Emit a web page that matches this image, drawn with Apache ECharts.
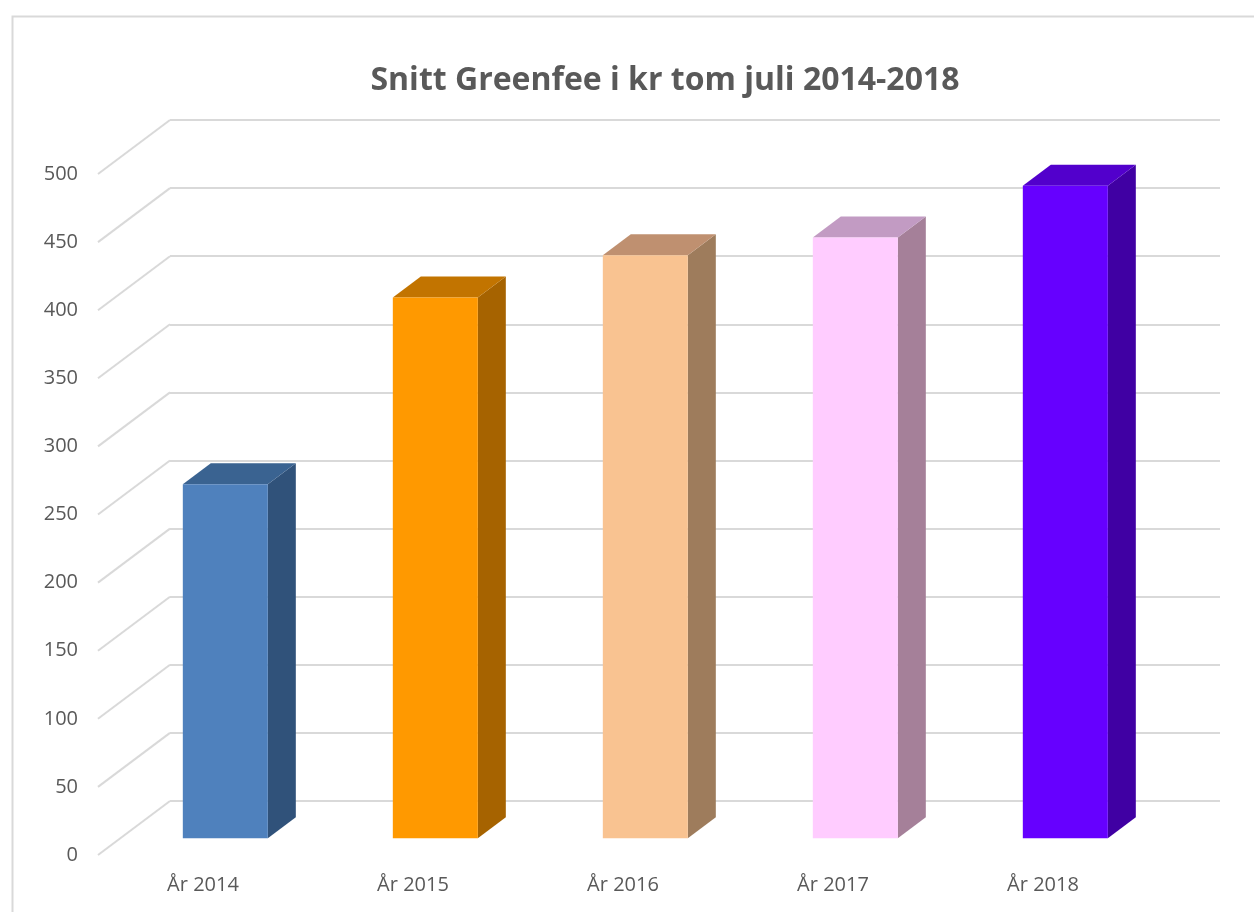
<!DOCTYPE html>
<html>
<head>
<meta charset="UTF-8">
<title>Snitt Greenfee</title>
<script src="https://cdn.jsdelivr.net/npm/echarts@6/dist/echarts.min.js"></script>
<style>
  html, body { margin: 0; padding: 0; background: #fff; }
  #chart { width: 1254px; height: 912px; }
</style>
</head>
<body>
<div id="chart"></div>
<script>
// data
var years = ['År 2014', 'År 2015', 'År 2016', 'År 2017', 'År 2018'];
var greenfee = [260, 397, 428, 441, 479];
var ticks = [0, 50, 100, 150, 200, 250, 300, 350, 400, 450, 500];

// colours: front, side, top
var frontCol = ['#4f81bd', '#ff9900', '#f9c391', '#ffccff', '#6600ff'];
var sideCol = ['#30527a', '#a66300', '#9e7c5c', '#a58099', '#4000a3'];
var topCol = ['#3a6391', '#c27400', '#bf9070', '#c29bc3', '#5200cc'];

var depth = [72, -54];   // floor depth in px (front edge -> back wall)
var barPos = 0.31;       // where the bar front sits in the depth
var barDepth = [28, -21];
var barW = 85;

var chart = echarts.init(document.getElementById('chart'));

var option = {
  backgroundColor: '#fff',
  animation: false,
  textStyle: { fontFamily: 'Open Sans' },
  title: {
    text: 'Snitt Greenfee i kr tom juli 2014-2018',
    left: 660,
    top: 60,
    textAlign: 'center',
    textStyle: { fontSize: 32, fontWeight: 'bold', color: '#595959', fontFamily: 'Open Sans' }
  },
  graphic: [{
    type: 'rect',
    left: 10, top: 14,
    shape: { width: 1300, height: 950 },
    style: { fill: 'none', stroke: '#d9d9d9', lineWidth: 2 },
    silent: true
  }],
  grid: [
    { left: 98, top: 174, width: 1050, height: 681 },   // front edge
    { left: 170, top: 120, width: 1050, height: 681 }   // back wall
  ],
  xAxis: [
    {
      type: 'category', gridIndex: 0, data: years,
      axisLine: { show: false }, axisTick: { show: false },
      axisLabel: { color: '#595959', fontSize: 20, margin: 20 }
    },
    {
      type: 'category', gridIndex: 1, data: years, show: false
    }
  ],
  yAxis: [
    {
      type: 'value', gridIndex: 0, min: 0, max: 500, interval: 50,
      axisLine: { show: false }, axisTick: { show: false },
      splitLine: { show: false },
      axisLabel: { color: '#595959', fontSize: 20, margin: 20 }
    },
    {
      type: 'value', gridIndex: 1, min: 0, max: 500, interval: 50,
      axisLine: { show: false }, axisTick: { show: false },
      axisLabel: { show: false },
      splitLine: { lineStyle: { color: '#d9d9d9', width: 2 } }
    }
  ],
  series: [
    {
      // diagonal floor/wall lines joining the front labels to the back wall
      type: 'custom',
      xAxisIndex: 0, yAxisIndex: 0,
      data: ticks.map(function (t) { return [0, t]; }),
      z: 1,
      silent: true,
      renderItem: function (params, api) {
        var p = api.coord([0, api.value(1)]);
        var x0 = p[0] - api.size([1, 0])[0] / 2;
        return {
          type: 'line',
          shape: { x1: x0, y1: p[1], x2: x0 + depth[0], y2: p[1] + depth[1] },
          style: { stroke: '#d9d9d9', lineWidth: 2 }
        };
      }
    },
    {
      type: 'custom',
      xAxisIndex: 0, yAxisIndex: 0,
      data: greenfee.map(function (v, i) { return [i, v]; }),
      z: 5,
      renderItem: function (params, api) {
        var i = api.value(0);
        var base = api.coord([i, 0]);
        var top = api.coord([i, api.value(1)]);
        var ox = depth[0] * barPos, oy = depth[1] * barPos;
        var x1 = base[0] + ox - barW / 2, x2 = x1 + barW;
        var yb = base[1] + oy, yt = top[1] + oy;
        var dx = barDepth[0], dy = barDepth[1];
        return {
          type: 'group',
          children: [
            {
              type: 'polygon',
              shape: { points: [[x2, yb], [x2 + dx, yb + dy], [x2 + dx, yt + dy], [x2, yt]] },
              style: { fill: sideCol[i] }
            },
            {
              type: 'polygon',
              shape: { points: [[x1, yt], [x2, yt], [x2 + dx, yt + dy], [x1 + dx, yt + dy]] },
              style: { fill: topCol[i] }
            },
            {
              type: 'rect',
              shape: { x: x1, y: yt, width: barW, height: yb - yt },
              style: { fill: frontCol[i] }
            }
          ]
        };
      }
    }
  ]
};

chart.setOption(option);
</script>
</body>
</html>
